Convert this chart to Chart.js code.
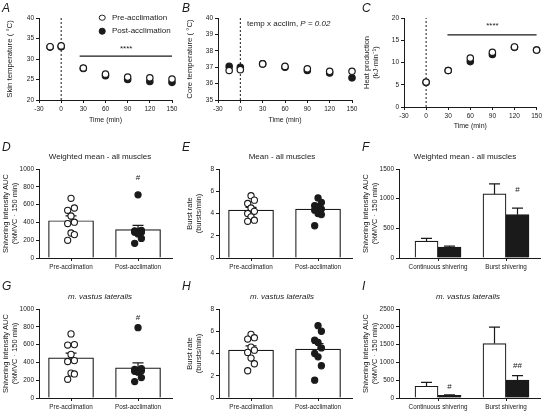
<!DOCTYPE html>
<html>
<head>
<meta charset="utf-8">
<title>Cold acclimation: temperatures, heat production and shivering</title>
<script src="https://cdn.jsdelivr.net/npm/chart.js@4.4.1/dist/chart.umd.min.js"></script>
<style>
  html, body { margin: 0; padding: 0; background: #fff; }
  #fig { position: relative; width: 544px; height: 412px; overflow: hidden;
         font-family: "Liberation Sans", Arial, sans-serif; color: #1a1a1a; }
  #fig canvas { position: absolute; }
  .letter { position: absolute; font-size: 12px; line-height: 1; font-style: italic; }
  .ttl { position: absolute; font-size: 8px; line-height: 1; white-space: nowrap; transform: translate(-50%, -50%); }
  .leg { position: absolute; font-size: 8px; line-height: 1; white-space: nowrap; transform: translateY(-50%); }
  .dot { position: absolute; width: 4.6px; height: 4.6px; border-radius: 50%; border: 1.2px solid #1a1a1a;
         background: #fff; transform: translate(-50%, -50%); }
  .dot.full { background: #1a1a1a; }
</style>
</head>
<body>
<div id="fig">
  <canvas id="cA"></canvas><canvas id="cB"></canvas><canvas id="cC"></canvas>
  <canvas id="cD"></canvas><canvas id="cE"></canvas><canvas id="cF"></canvas>
  <canvas id="cG"></canvas><canvas id="cH"></canvas><canvas id="cI"></canvas>

  <div class="letter" style="left:2px;top:1.5px">A</div>
  <div class="letter" style="left:182px;top:1.5px">B</div>
  <div class="letter" style="left:362px;top:1.5px">C</div>
  <div class="letter" style="left:2px;top:140.5px">D</div>
  <div class="letter" style="left:182px;top:140.5px">E</div>
  <div class="letter" style="left:362px;top:140.5px">F</div>
  <div class="letter" style="left:2px;top:279.5px">G</div>
  <div class="letter" style="left:182px;top:279.5px">H</div>
  <div class="letter" style="left:362px;top:279.5px">I</div>

  <!-- legend of panel A -->
  <div class="dot" style="left:102px;top:17.5px"></div>
  <div class="leg" style="left:112px;top:17.5px">Pre-acclimation</div>
  <div class="dot full" style="left:102px;top:31px"></div>
  <div class="leg" style="left:112px;top:31px">Post-acclimation</div>

  <div class="leg" style="left:247px;top:24px">temp x acclim, <i>P</i> = <i>0.02</i></div>

  <div class="ttl" style="left:100px;top:157px">Weighted mean - all muscles</div>
  <div class="ttl" style="left:282px;top:157px">Mean - all muscles</div>
  <div class="ttl" style="left:465px;top:157px">Weighted mean - all muscles</div>
  <div class="ttl" style="left:100px;top:297px"><i>m. vastus lateralis</i></div>
  <div class="ttl" style="left:282px;top:297px"><i>m. vastus lateralis</i></div>
  <div class="ttl" style="left:468px;top:297px"><i>m. vastus lateralis</i></div>
</div>

<script>
var FONT = '"Liberation Sans", Arial, sans-serif';
var INK = '#1a1a1a';
Chart.defaults.font.family = FONT;
Chart.defaults.color = INK;

// ---- time course (A, B, C) ----
var timeAB = [-15, 0, 30, 60, 90, 120, 150];
var timeC = [0, 30, 60, 90, 120, 150];
var skinPre = [33.0, 33.2, 27.8, 26.3, 25.6, 25.4, 25.1];
var skinPost = [32.9, 33.0, 27.7, 25.9, 25.0, 24.5, 24.3];
var skinSig = [25, 150, 30.7];          // from, to, level
var corePre = [36.8, 36.85, 37.2, 37.05, 36.9, 36.75, 36.75];
var corePost = [37.05, 37.0, 37.2, 37.0, 36.8, 36.65, 36.35];
var heatPre = [5.6, 8.2, 11.0, 12.3, 13.5, 12.8];
var heatPost = [5.5, 8.2, 10.2, 11.8, 13.4, 12.8];
var heatSig = [29, 150, 16.2];

// ---- individual data + bars (D, E, G, H) ----
var groups = ['Pre-acclimation', 'Post-acclimation'];
var wmAucPre = [671, 562, 536, 472, 402, 387, 281, 263, 199];
var wmAucPost = [710, 310, 305, 300, 290, 290, 270, 220, 165];
var wmAucMean = [419, 318];
var wmAucSem = [55, 48];
var burstPre = [5.6, 5.2, 4.9, 4.5, 4.2, 4.0, 3.7, 3.4, 3.3];
var burstPost = [5.4, 5.0, 4.7, 4.6, 4.4, 4.3, 4.0, 3.9, 2.9];
var burstMean = [4.3, 4.4];
var burstSem = [0.25, 0.25];
var vlAucPre = [720, 600, 595, 490, 420, 410, 280, 270, 210];
var vlAucPost = [790, 330, 320, 310, 305, 300, 290, 230, 185];
var vlAucMean = [450, 338];
var vlAucSem = [55, 57];
var vlBurstPre = [5.72, 5.42, 5.3, 4.57, 4.3, 4.1, 3.59, 3.08, 2.45];
var vlBurstPost = [6.5, 6.0, 5.2, 5.0, 4.5, 4.0, 3.7, 2.9, 1.6];
var vlBurstMean = [4.3, 4.4];
var vlBurstSem = [0.38, 0.5];

// ---- shivering pattern (F, I) ----
var patterns = ['Continuous shivering', 'Burst shivering'];
var wmPatPre = [285, 1080];
var wmPatPreSem = [45, 170];
var wmPatPost = [185, 730];
var wmPatPostSem = [15, 110];
var vlPatPre = [330, 1530];
var vlPatPreSem = [110, 460];
var vlPatPost = [75, 505];
var vlPatPostSem = [15, 125];

// error bars drawn right after their bar dataset, so points sit on top
var errPlugin = {
  id: 'errBars',
  afterDatasetDraw: function (chart, args) {
    var ds = chart.data.datasets[args.index];
    if (!ds.err) return;
    var y = chart.scales.y, ctx = chart.ctx;
    ctx.save();
    ctx.strokeStyle = INK;
    ctx.lineWidth = 1.2;
    args.meta.data.forEach(function (bar, i) {
      var top = y.getPixelForValue(ds.data[i].y + ds.err[i]);
      ctx.beginPath();
      ctx.moveTo(bar.x, bar.y);
      ctx.lineTo(bar.x, top);
      ctx.moveTo(bar.x - 5.5, top);
      ctx.lineTo(bar.x + 5.5, top);
      ctx.stroke();
    });
    ctx.restore();
  }
};

// significance marks (****, #) placed in data coordinates
function notes(items) {
  return {
    id: 'notes',
    afterDatasetsDraw: function (chart) {
      var ctx = chart.ctx;
      ctx.save();
      ctx.fillStyle = INK;
      ctx.textAlign = 'center';
      ctx.textBaseline = 'middle';
      items.forEach(function (n) {
        ctx.font = (n.size || 8) + 'px ' + FONT;
        ctx.fillText(n.text, chart.scales.x.getPixelForValue(n.x) + (n.dx || 0), chart.scales.y.getPixelForValue(n.y));
      });
      ctx.restore();
    }
  };
}

function axis(min, max, step, tickSize, labels) {
  var ax = {
    type: 'linear', min: min, max: max, offset: false,
    grid: { drawOnChartArea: false, drawTicks: true, tickLength: 3, color: INK, lineWidth: 1, offset: false },
    border: { display: true, color: INK, width: 1 },
    ticks: {
      stepSize: step, color: INK, padding: 2, maxRotation: 0, autoSkip: false,
      font: { family: FONT, size: tickSize },
      callback: labels ? function (v) { return labels[v]; } : function (v) { return String(v); }
    }
  };
  if (labels) {
    ax.afterBuildTicks = function (s) {
      s.ticks = labels.map(function (l, i) { return { value: i }; });
    };
  }
  return ax;
}

function yTitle(ax, text, size, pad) {
  ax.title = { display: true, text: text, color: INK, font: { family: FONT, size: size, lineHeight: 1.2 },
               padding: { top: pad, bottom: 0 } };
  return ax;
}

function xTitle(ax, text) {
  ax.title = { display: true, text: text, color: INK, font: { family: FONT, size: 7, lineHeight: 1.2 },
               padding: { top: 0, bottom: 2 } };
  return ax;
}

// box = canvas [x, y, w, h], plot = chart area [left, top, right, bottom] in page pixels
function build(id, box, plot, padBottom, type, datasets, xAx, yAx, items) {
  var c = document.getElementById(id);
  c.width = box[2]; c.height = box[3];
  c.style.left = box[0] + 'px'; c.style.top = box[1] + 'px';
  c.style.width = box[2] + 'px'; c.style.height = box[3] + 'px';
  var yw = plot[0] - box[0];
  var xh = box[1] + box[3] - padBottom - plot[3];
  xAx.afterFit = function (s) { s.height = xh; };
  yAx.afterFit = function (s) { s.width = yw; };
  return new Chart(c, {
    type: type,
    data: { datasets: datasets },
    options: {
      responsive: false, animation: false, devicePixelRatio: 1, events: [],
      layout: { padding: { left: 0, top: plot[1] - box[1], right: box[0] + box[2] - plot[2], bottom: padBottom } },
      plugins: { legend: { display: false }, tooltip: { enabled: false } },
      scales: { x: xAx, y: yAx }
    },
    plugins: [errPlugin, notes(items || [])]
  });
}

function series(xs, ys, filled) {
  return {
    type: 'scatter',
    data: xs.map(function (x, i) { return { x: x, y: ys[i] }; }),
    pointRadius: 3.2, pointBorderWidth: 1.2,
    pointBackgroundColor: filled ? INK : '#fff', pointBorderColor: INK,
    clip: false, order: filled ? 2 : 1
  };
}

function hline(sig) {
  return { type: 'line', data: [{ x: sig[0], y: sig[2] }, { x: sig[1], y: sig[2] }],
           borderColor: INK, borderWidth: 1.4, pointRadius: 0, order: 3, clip: false };
}

function vdash(lo, hi) {
  return { type: 'line', data: [{ x: 0, y: lo }, { x: 0, y: hi }],
           borderColor: INK, borderWidth: 1, borderDash: [2, 2], pointRadius: 0, order: 3, clip: false };
}

// jitter individual points around their group: cycle centre/right/left by rank
function dots(values, idx, filled) {
  var order = values.map(function (v, i) { return i; })
                    .sort(function (a, b) { return values[b] - values[a]; });
  var cycle = [0, 1, -1];
  var pts = [];
  order.forEach(function (k, r) { pts[k] = { x: idx + cycle[r % 3] * 0.05, y: values[k] }; });
  return {
    type: 'scatter', data: pts,
    pointRadius: 3.1, pointBorderWidth: 1.1,
    pointBackgroundColor: filled ? INK : '#fff', pointBorderColor: INK,
    clip: false, order: 1
  };
}

function bars(values, sems, fill, thick) {
  return {
    type: 'bar',
    data: values.map(function (v, i) { return { x: i, y: v }; }),
    err: sems,
    backgroundColor: fill, borderColor: INK, borderWidth: 1.2,
    barThickness: thick, order: 2
  };
}

// ---- A ----
build('cA', [0, 0, 180, 130], [39, 18, 172, 100], 4, 'scatter',
  [series(timeAB, skinPre, false), series(timeAB, skinPost, true), hline(skinSig), vdash(20, 40)],
  xTitle(axis(-30, 150, 30, 6.5), 'Time (min)'),
  yTitle(axis(20, 40, 5, 6.5), 'Skin temperature ( \u00b0C)', 7.8, 5.3),
  [{ x: 88, y: 32.6, text: '****', size: 8 }]);

// ---- B ----
build('cB', [180, 0, 180, 130], [218, 18, 352, 100], 4, 'scatter',
  [series(timeAB, corePre, false), series(timeAB, corePost, true), vdash(35, 40)],
  xTitle(axis(-30, 150, 30, 6.5), 'Time (min)'),
  yTitle(axis(35, 40, 1, 6.5), 'Core temperature ( \u00b0C)', 7.8, 5.3));

// ---- C ----
build('cC', [360, 0, 184, 135], [404, 18, 538, 107], 3, 'scatter',
  [series(timeC, heatPre, false), series(timeC, heatPost, true), hline(heatSig), vdash(0, 20)],
  xTitle(axis(-30, 150, 30, 6.5), 'Time (min)'),
  yTitle(axis(0, 20, 5, 6.5), ['Heat production', '(kJ\u00b7min\u207b\u00b9)'], 7.5, 2.5),
  [{ x: 90, y: 18.3, text: '****', size: 8 }]);

// ---- D ----
build('cD', [0, 135, 180, 140], [39, 169, 172, 258], 0, 'bar',
  [bars(wmAucMean, wmAucSem, '#fff', 45), dots(wmAucPre, 0, false), dots(wmAucPost, 1, true)],
  axis(-0.478, 1.507, 1, 6.3, groups),
  yTitle(axis(0, 1000, 200, 6.5), ['Shivering intensity AUC', '(%MVC \u00b7 150 min)'], 7.5, 1.5),
  [{ x: 1, y: 900, text: '#', size: 8 }]);

// ---- E ----
build('cE', [180, 135, 180, 140], [219, 169, 352, 258], 0, 'bar',
  [bars(burstMean, burstSem, '#fff', 45), dots(burstPre, 0, false), dots(burstPost, 1, true)],
  axis(-0.478, 1.507, 1, 6.3, groups),
  yTitle(axis(0, 8, 2, 6.5), ['Burst rate', '(bursts/min)'], 7.5, 5.5));

// ---- F ----
build('cF', [360, 135, 184, 140], [399, 169, 540, 258], 0, 'bar',
  [bars(wmPatPre, wmPatPreSem, '#fff', 23), bars(wmPatPost, wmPatPostSem, INK, 23)],
  axis(-0.574, 1.5, 1, 6.3, patterns),
  yTitle(axis(0, 1500, 500, 6.5), ['Shivering intensity AUC', '(%MVC \u00b7 150 min)'], 7.5, 1.5),
  [{ x: 1, dx: 11.5, y: 1150, text: '#', size: 8 }]);

// ---- G ----
build('cG', [0, 275, 180, 137], [39, 309, 172, 398], 0, 'bar',
  [bars(vlAucMean, vlAucSem, '#fff', 45), dots(vlAucPre, 0, false), dots(vlAucPost, 1, true)],
  axis(-0.478, 1.507, 1, 6.3, groups),
  yTitle(axis(0, 1000, 200, 6.5), ['Shivering intensity AUC', '(%MVC \u00b7 150 min)'], 7.5, 1.5),
  [{ x: 1, y: 900, text: '#', size: 8 }]);

// ---- H ----
build('cH', [180, 275, 180, 137], [219, 309, 352, 398], 0, 'bar',
  [bars(vlBurstMean, vlBurstSem, '#fff', 45), dots(vlBurstPre, 0, false), dots(vlBurstPost, 1, true)],
  axis(-0.478, 1.507, 1, 6.3, groups),
  yTitle(axis(0, 8, 2, 6.5), ['Burst rate', '(bursts/min)'], 7.5, 5.5));

// ---- I ----
build('cI', [360, 275, 184, 137], [399, 309, 540, 398], 0, 'bar',
  [bars(vlPatPre, vlPatPreSem, '#fff', 23), bars(vlPatPost, vlPatPostSem, INK, 23)],
  axis(-0.574, 1.5, 1, 6.3, patterns),
  yTitle(axis(0, 2500, 500, 6.5), ['Shivering intensity AUC', '(%MVC \u00b7 150 min)'], 7.5, 1.5),
  [{ x: 0, dx: 11.5, y: 310, text: '#', size: 8 }, { x: 1, dx: 11.5, y: 900, text: '##', size: 8 }]);
</script>
</body>
</html>
